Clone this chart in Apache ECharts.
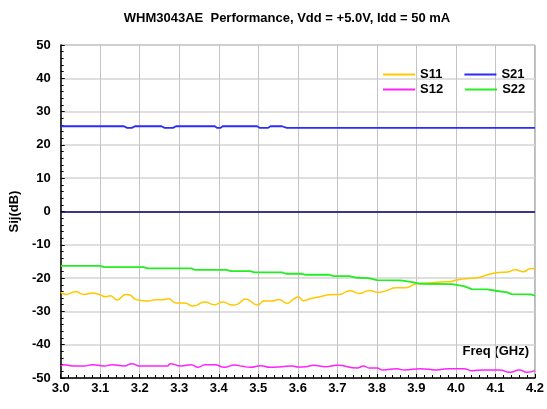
<!DOCTYPE html>
<html><head><meta charset="utf-8">
<script src="https://cdn.jsdelivr.net/npm/echarts@6/dist/echarts.min.js"></script>
<style>html,body{margin:0;padding:0;background:#fff}#c{width:547px;height:409px}</style>
</head><body><div id="c"></div>
<script>
const xTicks = [3.0,3.1,3.2,3.3,3.4,3.5,3.6,3.7,3.8,3.9,4.0,4.1,4.2];
const yTicks = [-50,-40,-30,-20,-10,0,10,20,30,40,50];

const s11Freq = [3.000,3.013,3.038,3.059,3.080,3.101,3.113,3.126,3.143,3.164,3.176,3.189,3.205,3.222,3.239,3.256,3.272,3.293,3.314,3.335,3.364,3.389,3.410,3.435,3.448,3.468,3.498,3.514,3.535,3.552,3.573,3.589,3.602,3.614,3.631,3.656,3.681,3.706,3.731,3.756,3.782,3.802,3.823,3.848,3.873,3.900,3.930,3.960,3.990,4.000,4.030,4.050,4.080,4.107,4.130,4.150,4.170,4.190,4.200];
const s11Val  = [-24.3,-24.9,-24.1,-24.9,-24.5,-25.1,-25.6,-25.3,-26.6,-24.9,-25.1,-26.4,-26.7,-26.9,-26.5,-26.5,-26.2,-27.5,-27.5,-28.4,-27.2,-28.0,-27.2,-28.1,-27.8,-26.3,-28.1,-26.9,-26.9,-26.4,-27.6,-26.3,-25.7,-26.8,-26.2,-25.6,-25.0,-24.9,-23.8,-24.6,-23.7,-24.3,-23.8,-22.9,-22.9,-21.7,-21.5,-21.2,-21.0,-20.6,-20.1,-20.0,-19.0,-18.3,-18.2,-17.5,-18.1,-17.1,-17.2];

const s21Freq = [3.000,3.160,3.168,3.180,3.188,3.255,3.263,3.284,3.292,3.390,3.396,3.404,3.410,3.497,3.504,3.524,3.531,3.560,3.572,4.200];
const s21Val  = [25.6,25.6,25.1,25.1,25.6,25.6,25.1,25.1,25.6,25.6,25.1,25.1,25.6,25.6,25.1,25.1,25.6,25.6,25.1,25.1];

const s12Freq = [3.000,3.008,3.030,3.060,3.080,3.110,3.130,3.160,3.180,3.200,3.270,3.277,3.305,3.330,3.348,3.365,3.390,3.414,3.440,3.460,3.480,3.506,3.530,3.560,3.586,3.600,3.620,3.640,3.670,3.700,3.750,3.766,3.780,3.800,3.816,3.850,3.870,3.910,3.950,3.980,4.020,4.040,4.070,4.110,4.137,4.160,4.180,4.200];
const s12Val  = [-46.4,-46.0,-46.4,-46.4,-46.0,-46.4,-46.0,-46.4,-45.7,-46.4,-46.4,-45.7,-46.4,-46.0,-46.8,-46.0,-46.0,-46.8,-46.1,-46.5,-46.8,-46.3,-46.8,-46.6,-46.4,-46.7,-46.6,-46.2,-46.6,-46.2,-47.0,-46.4,-47.0,-47.0,-47.6,-47.2,-47.6,-47.2,-47.6,-47.2,-47.2,-47.8,-47.6,-47.6,-48.3,-47.6,-48.3,-47.8];

const s22Freq = [3.00,3.10,3.11,3.21,3.22,3.33,3.34,3.42,3.43,3.48,3.49,3.56,3.57,3.61,3.62,3.68,3.69,3.73,3.75,3.78,3.80,3.86,3.89,3.91,3.99,4.02,4.04,4.08,4.10,4.13,4.14,4.19,4.20];
const s22Val  = [-16.3,-16.3,-16.7,-16.7,-17.1,-17.1,-17.5,-17.5,-17.9,-17.9,-18.3,-18.3,-18.7,-18.7,-19.0,-19.0,-19.4,-19.4,-19.9,-20.0,-20.6,-20.7,-21.2,-21.7,-21.8,-22.4,-23.3,-23.4,-23.8,-24.3,-24.8,-24.9,-25.3];

const zip = (a,b) => a.map((v,i)=>[v,b[i]]);
const font = 'Liberation Sans, Arial, sans-serif';
const chart = echarts.init(document.getElementById('c'), null, {renderer:'canvas'});
const lineSeries = (name, f, v, color, width, smooth) => ({
  name, type:'line', data: zip(f,v), symbol:'none', smooth: smooth,
  lineStyle:{color, width}, itemStyle:{color}, animation:false
});
const s21 = lineSeries('S21', s21Freq, s21Val, '#2b2bff', 1.8, false);
s21.markLine = {silent:true, symbol:'none', label:{show:false},
  lineStyle:{color:'#000066', width:1.5, type:'solid'}, data:[{yAxis:0}], animation:false};
const legendText = {fontFamily:font, fontSize:13, fontWeight:'bold', color:'#000'};
chart.setOption({
  animation:false,
  backgroundColor:'#fff',
  title:{text:'WHM3043AE  Performance, Vdd = +5.0V, Idd = 50 mA', left:282, top:7, textAlign:'center',
    textStyle:{fontFamily:font, fontSize:13, fontWeight:'bold', color:'#000'}},
  legend:[
    {data:['S11','S21'], left:378, top:63, itemWidth:32, itemHeight:2, itemGap:22, icon:'rect', textStyle:legendText},
    {data:['S12','S22'], left:378, top:78, itemWidth:32, itemHeight:2, itemGap:22, icon:'rect', textStyle:legendText}
  ],
  grid:{left:58, right:10, top:45, bottom:31, show:true, borderColor:'#808080', borderWidth:1, containLabel:false},
  xAxis:{type:'value', min:xTicks[0], max:xTicks[xTicks.length-1], interval:0.1,
    axisLine:{show:true, onZero:false, lineStyle:{color:'#000', width:1.5}},
    axisTick:{show:true, inside:true, length:4, lineStyle:{color:'#000'}},
    minorTick:{show:true, splitNumber:5, length:3, lineStyle:{color:'#000'}},
    splitLine:{show:true, lineStyle:{color:'#c4c4c4', width:1}},
    axisLabel:{fontFamily:font, fontSize:13, fontWeight:'bold', color:'#000', margin:4,
      formatter:v=>v.toFixed(1)}},
  yAxis:{type:'value', min:yTicks[0], max:yTicks[yTicks.length-1], interval:10,
    name:'Sij(dB)', nameLocation:'middle', nameGap:30, nameRotate:90,
    nameTextStyle:{fontFamily:font, fontSize:13, fontWeight:'bold', color:'#000'},
    axisLine:{show:true, onZero:false, lineStyle:{color:'#000', width:1.5}},
    axisTick:{show:true, inside:true, length:4, lineStyle:{color:'#000'}},
    minorTick:{show:true, splitNumber:5, length:3, lineStyle:{color:'#000'}},
    splitLine:{show:true, lineStyle:{color:'#d4d4d4', width:1.5}},
    axisLabel:{fontFamily:font, fontSize:13, fontWeight:'bold', color:'#000', margin:10}},
  graphic:[{type:'text', right:18, top:345, style:{text:'Freq (GHz)', fontFamily:font, fontSize:13, fontWeight:'bold', fill:'#000'}}],
  series:[
    lineSeries('S11', s11Freq, s11Val, '#ffc800', 1.5, 0.5),
    s21,
    lineSeries('S12', s12Freq, s12Val, '#ff22ff', 1.5, 0.5),
    lineSeries('S22', s22Freq, s22Val, '#22ee22', 1.8, false)
  ]
});
</script></body></html>
